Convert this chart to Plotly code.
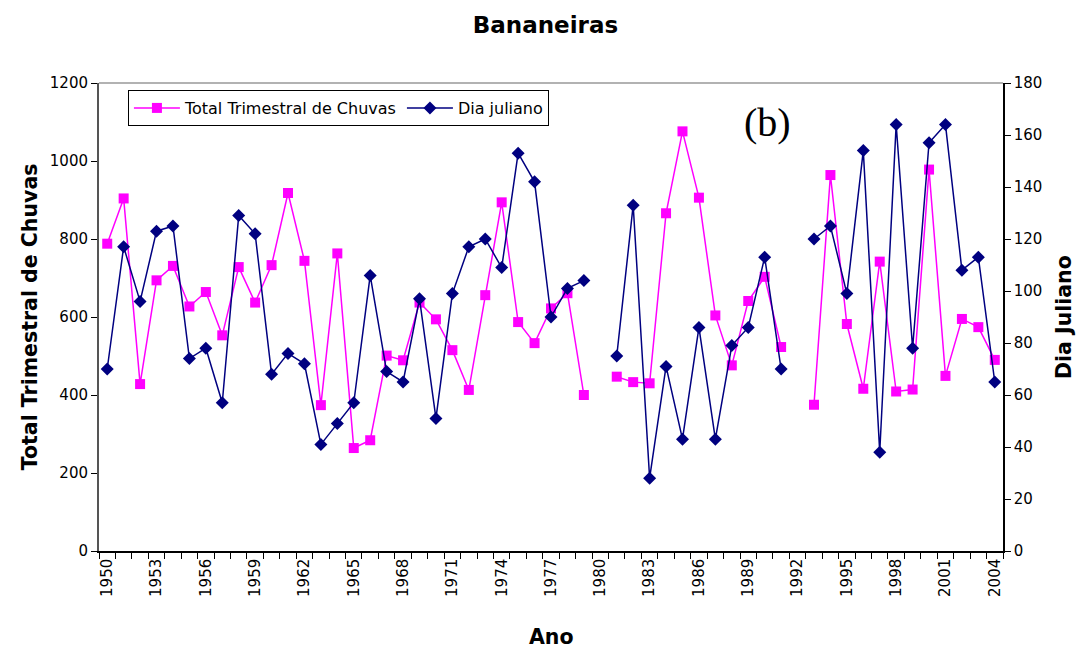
import plotly.graph_objects as go

# Years 1950-2004; 1980 and 1992 have no record
anos = list(range(1950, 2005))

# Total rainfall for the quarter (mm), left axis
total_chuvas = [788, 904, 428, 694, 731, 627, 664, 553, 728, 637,
                733, 918, 744, 374, 763, 264, 284, 501, 489, 637,
                594, 515, 413, 656, 894, 587, 533, 622, 661, 400,
                None, 447, 433, 430, 866, 1076, 906, 604, 476, 641,
                703, 523, None, 375, 964, 582, 416, 742, 409, 414,
                978, 449, 595, 574, 490]

# Julian day, right axis
dia_juliano = [70, 117, 96, 123, 125, 74, 78, 57, 129, 122,
               68, 76, 72, 41, 49, 57, 106, 69, 65, 97,
               51, 99, 117, 120, 109, 153, 142, 90, 101, 104,
               None, 75, 133, 28, 71, 43, 86, 43, 79, 86,
               113, 70, None, 120, 125, 99, 154, 38, 164, 78,
               157, 164, 108, 113, 65]

rotulos_x = list(range(1950, 2005, 3)) + [2004]

FONTE = "DejaVu Sans, Arial, sans-serif"
ROSA = "#FF00FF"
AZUL = "#000080"

fig = go.Figure()

fig.add_trace(go.Scatter(
    x=anos, y=total_chuvas, name="Total Trimestral de Chuvas",
    mode="lines+markers", connectgaps=False,
    line=dict(color=ROSA, width=1.5),
    marker=dict(symbol="square", size=10, color=ROSA),
    yaxis="y",
))

fig.add_trace(go.Scatter(
    x=anos, y=dia_juliano, name="Dia juliano",
    mode="lines+markers", connectgaps=False,
    line=dict(color=AZUL, width=1.5),
    marker=dict(symbol="diamond", size=10, color=AZUL),
    yaxis="y2",
))

fig.update_layout(
    width=1078, height=649,
    margin=dict(l=99, r=75, t=83, b=98),
    paper_bgcolor="white", plot_bgcolor="white",
    font=dict(family=FONTE, size=15, color="black"),
    title=dict(text="<b>Bananeiras</b>", x=0.506, xanchor="center",
               y=1 - 25 / 649, yanchor="middle", yref="container",
               font=dict(size=23, family=FONTE, color="black")),
    showlegend=True,
    legend=dict(orientation="h", x=0.032, y=0.985, xanchor="left", yanchor="top",
                bordercolor="black", borderwidth=1, bgcolor="white",
                font=dict(size=16, family=FONTE), itemwidth=46,
                tracegroupgap=0),
    xaxis=dict(
        range=[1949.5, 2004.5], showgrid=False, zeroline=False,
        showline=True, linecolor="black", linewidth=1.5, mirror=False,
        tickmode="array", tickvals=rotulos_x, ticktext=[str(a) for a in rotulos_x],
        tickangle=-90, ticks="", tickfont=dict(size=15),
        minor=dict(tickmode="array", tickvals=[a - 0.5 for a in anos] + [2004.5],
                   ticks="outside", ticklen=6, tickcolor="black", tickwidth=1,
                   showgrid=False),
    ),
    yaxis=dict(
        range=[0, 1200], dtick=200, showgrid=False, zeroline=False,
        showline=True, linecolor="#555555", linewidth=2,
        ticks="outside", ticklen=6, tickcolor="black",
        tickfont=dict(size=15),
    ),
    yaxis2=dict(
        range=[0, 180], dtick=20, overlaying="y", side="right",
        showgrid=False, zeroline=False,
        showline=True, linecolor="black", linewidth=1.5,
        ticks="outside", ticklen=6, tickcolor="black",
        tickfont=dict(size=15),
    ),
    shapes=[dict(type="line", xref="paper", yref="paper", x0=0, x1=1, y0=1, y1=1,
                 line=dict(color="#999999", width=1.5))],
    annotations=[
        dict(text="<b>Total Trimestral de Chuvas</b>", xref="paper", yref="paper",
             x=-0.076, y=0.5, xanchor="center", yanchor="middle", textangle=-90,
             showarrow=False, font=dict(size=20.5, family=FONTE)),
        dict(text="<b>Dia Juliano</b>", xref="paper", yref="paper",
             x=1.0, xshift=61, y=0.5, xanchor="center", yanchor="middle",
             textangle=-90, showarrow=False, font=dict(size=20.5, family=FONTE)),
        dict(text="<b>Ano</b>", xref="paper", yref="paper",
             x=0.5, y=0, yshift=-86, xanchor="center", yanchor="middle",
             showarrow=False, font=dict(size=20.5, family=FONTE)),
        dict(text="(b)", xref="paper", yref="paper",
             x=(767 - 99) / 904, y=(551 - 122) / 468, xanchor="center", yanchor="middle",
             showarrow=False,
             font=dict(size=40, family="Liberation Serif, Times New Roman, serif")),
    ],
)

fig.write_html("out.html")
